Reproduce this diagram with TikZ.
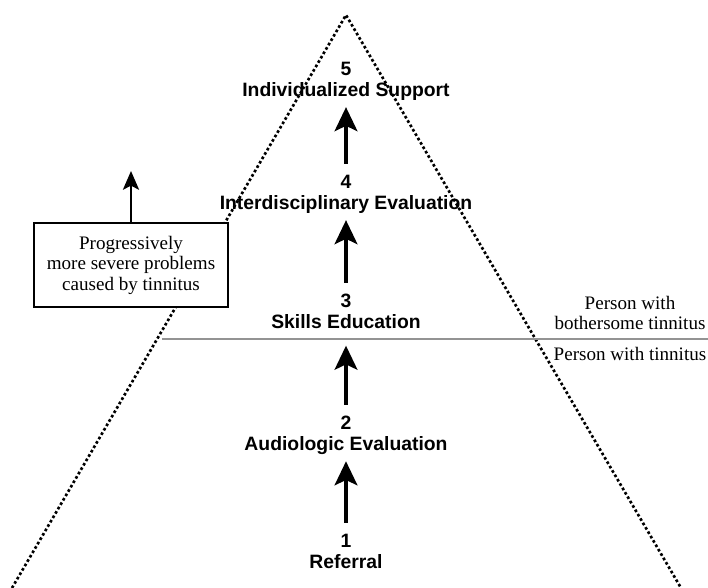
\documentclass[tikz,border=0pt]{standalone}
\usepackage{fontspec}
\setmainfont{Liberation Serif}
\setsansfont{Liberation Sans}
\usetikzlibrary{arrows.meta}

\begin{document}
\begin{tikzpicture}[x=0.75pt, y=-0.75pt,
	level/.style = {align=center, inner sep=0pt, font=\sffamily\bfseries\fontsize{14.5}{15.8}\selectfont},
	note/.style = {align=center, inner sep=0pt, font=\fontsize{14.3}{15.4}\selectfont},
	up/.style = {line width=3pt, -{Stealth[length=18pt, width=17pt, inset=4pt]}, shorten <=8pt, shorten >=5pt}]
	\useasboundingbox (0,0) rectangle (708,588);
	% pyramid
	\coordinate (top) at (346,15);
	\coordinate (bl) at (12,588);
	\coordinate (br) at (681,588);
	\draw[line width=2pt, dash pattern=on 2pt off 1.8pt] (bl) -- (top) -- (br);
	% split line
	\coordinate (splitl) at (162,339);
	\coordinate (splitr) at (708,339);
	\coordinate (split) at (346,339);
	\draw[gray!85, line width=2pt] (splitl) -- (splitr);
	% levels
	\node[level] (l5) at (346,81) {5\\Individualized Support};
	\node[level] (l4) at (346,194) {4\\Interdisciplinary Evaluation};
	\node[level] (l3) at (346,311) {3\\Skills Education};
	\node[level] (l2) at (346,435) {2\\Audiologic Evaluation};
	\node[level] (l1) at (346,551) {1\\Referral};
	\draw[up] (l1) -- (l2);
	\draw[up] (l2) -- (split);
	\draw[up] (l3) -- (l4);
	\draw[up] (l4) -- (l5);
	% side box
	\node[note, draw, fill=white, line width=1.4pt, minimum width=145pt, minimum height=63pt] (box) at (131,265) {Progressively\\more severe problems\\caused by tinnitus};
	\coordinate (boxup) at (131,171);
	\draw[line width=2pt, -{Stealth[length=14pt, width=12pt, inset=3pt]}] (box) -- (boxup);
	% right labels
	\node[note] (bother) at (630,313) {Person with\\bothersome tinnitus};
	\node[note] (tinn) at (630,354) {Person with tinnitus};
\end{tikzpicture}
\end{document}
